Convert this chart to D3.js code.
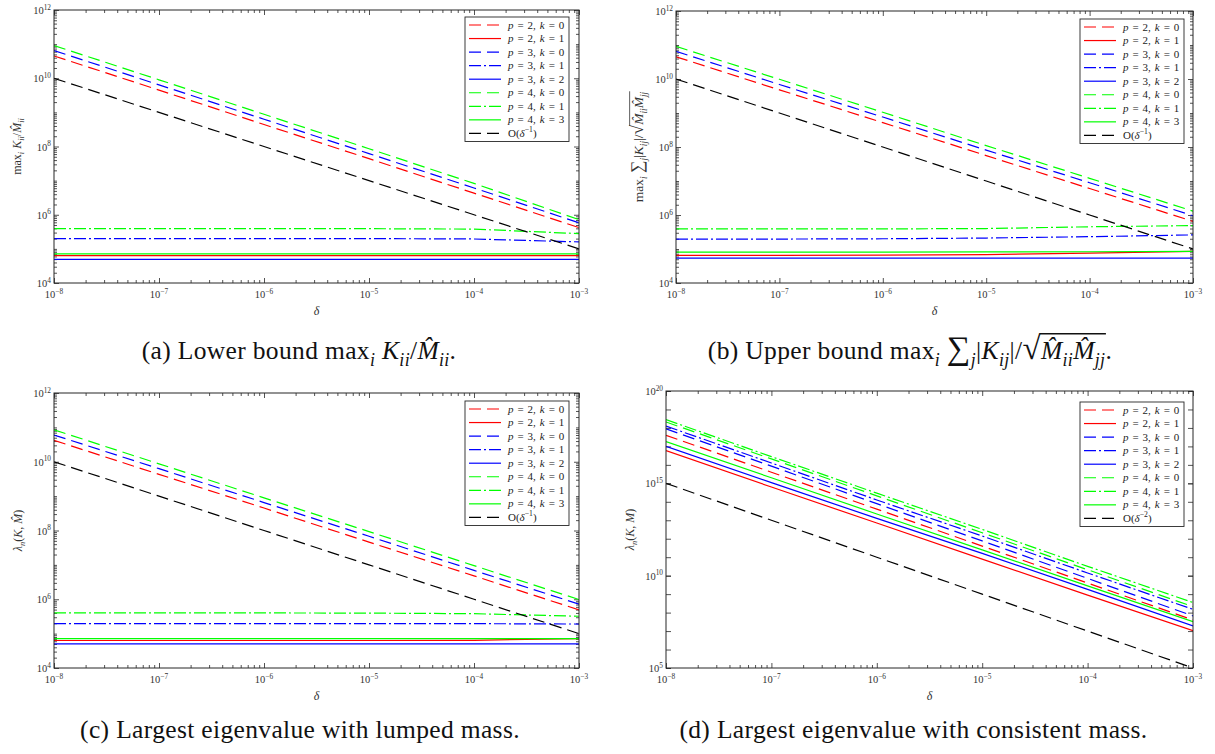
<!DOCTYPE html>
<html>
<head>
<meta charset="utf-8">
<script src="https://cdn.jsdelivr.net/npm/d3@7"></script>
<style>
  body { margin: 0; background: #fff; }
  svg text { font-family: "Liberation Serif", "Times New Roman", "DejaVu Serif", serif; }
</style>
</head>
<body>
<div id="fig"></div>
<script>
// delta values on the x axis (one reading per decade)
const deltas = [1e-8, 1e-7, 1e-6, 1e-5, 1e-4, 1e-3];

// legend entries, same order as the rows of every data array below
const seriesLabels = [
  [["p", "i"], [" = 2, ", "r"], ["k", "i"], [" = 0", "r"]],
  [["p", "i"], [" = 2, ", "r"], ["k", "i"], [" = 1", "r"]],
  [["p", "i"], [" = 3, ", "r"], ["k", "i"], [" = 0", "r"]],
  [["p", "i"], [" = 3, ", "r"], ["k", "i"], [" = 1", "r"]],
  [["p", "i"], [" = 3, ", "r"], ["k", "i"], [" = 2", "r"]],
  [["p", "i"], [" = 4, ", "r"], ["k", "i"], [" = 0", "r"]],
  [["p", "i"], [" = 4, ", "r"], ["k", "i"], [" = 1", "r"]],
  [["p", "i"], [" = 4, ", "r"], ["k", "i"], [" = 3", "r"]]
];
const refLabelMinus1 = [["O(", "r"], ["δ", "i"], ["−1", "^r"], [")", "r"]];
const refLabelMinus2 = [["O(", "r"], ["δ", "i"], ["−2", "^r"], [")", "r"]];

// (a) lower bound max_i K_ii / M_ii
const lowerBound = [
  [4.5e10, 4.5e9, 4.4e8, 4.4e7, 4.3e6, 4.2e5],
  [6.3e4, 6.3e4, 6.3e4, 6.3e4, 6.3e4, 6.3e4],
  [6.5e10, 6.4e9, 6.3e8, 6.2e7, 6.1e6, 5.8e5],
  [2.0e5, 2.0e5, 2.0e5, 2.0e5, 1.95e5, 1.6e5],
  [4.9e4, 4.9e4, 4.9e4, 4.9e4, 4.9e4, 4.9e4],
  [9.1e10, 9.0e9, 8.8e8, 8.6e7, 8.3e6, 7.2e5],
  [3.9e5, 3.9e5, 3.9e5, 3.9e5, 3.8e5, 2.8e5],
  [7.1e4, 7.1e4, 7.1e4, 7.1e4, 7.1e4, 7.1e4],
  [1e10, 1e9, 1e8, 1e7, 1e6, 1e5]
];

// (b) upper bound
const upperBound = [
  [4.5e10, 4.8e9, 5.2e8, 5.6e7, 6.0e6, 6.5e5],
  [6.5e4, 6.5e4, 6.6e4, 6.8e4, 7.6e4, 8.5e4],
  [6.5e10, 6.9e9, 7.6e8, 8.1e7, 8.9e6, 9.5e5],
  [1.96e5, 1.96e5, 2.0e5, 2.1e5, 2.3e5, 2.6e5],
  [5.4e4, 5.4e4, 5.4e4, 5.4e4, 5.4e4, 5.4e4],
  [9.1e10, 9.8e9, 1.05e9, 1.1e8, 1.2e7, 1.3e6],
  [3.9e5, 3.9e5, 3.9e5, 4.0e5, 4.5e5, 4.9e5],
  [8.1e4, 8.1e4, 8.1e4, 8.2e4, 8.3e4, 8.5e4],
  [1e10, 1e9, 1e8, 1e7, 1e6, 1e5]
];

// (c) largest eigenvalue, lumped mass
const lumpedEig = [
  [4.2e10, 4.3e9, 4.5e8, 4.6e7, 4.8e6, 4.9e5],
  [6.3e4, 6.3e4, 6.3e4, 6.3e4, 6.4e4, 7.2e4],
  [6.0e10, 6.3e9, 6.5e8, 6.8e7, 6.9e6, 7.2e5],
  [1.95e5, 1.95e5, 1.95e5, 1.95e5, 1.95e5, 1.9e5],
  [5.0e4, 5.0e4, 5.0e4, 5.0e4, 5.0e4, 5.0e4],
  [8.5e10, 8.7e9, 8.9e8, 9.3e7, 9.5e6, 9.8e5],
  [4.0e5, 4.0e5, 4.0e5, 3.95e5, 3.8e5, 3.2e5],
  [7.2e4, 7.2e4, 7.2e4, 7.2e4, 7.2e4, 7.2e4],
  [1e10, 1e9, 1e8, 1e7, 1e6, 1e5]
];

// (d) largest eigenvalue, consistent mass
const consistentEig = [
  [4.0e17, 4.0e15, 4.0e13, 4.0e11, 4.0e9, 4.0e7],
  [5.9e16, 6.3e14, 7.1e12, 7.9e10, 8.9e8, 1.05e7],
  [8.9e17, 8.5e15, 7.9e13, 7.6e11, 7.1e9, 6.6e7],
  [1.26e18, 1.26e16, 1.26e14, 1.4e12, 1.4e10, 1.5e8],
  [1.0e17, 1.1e15, 1.26e13, 1.6e11, 1.8e9, 1.9e7],
  [2.1e18, 2.1e16, 2.1e14, 2.1e12, 2.1e10, 2.1e8],
  [2.8e18, 2.8e16, 2.95e14, 3.2e12, 3.2e10, 3.5e8],
  [1.8e17, 2.0e15, 2.2e13, 2.5e11, 2.8e9, 3.2e7],
  [1e15, 1e13, 1e11, 1e9, 1e7, 1e5]
];

// line styles
const seriesColors = ["#ff0000", "#ff0000", "#0000ff", "#0000ff", "#0000ff", "#00ff00", "#00ff00", "#00ff00", "#000000"];
const dashed = "12,6", dashDot = "12,3,2,3";
const seriesDash = [dashed, null, dashed, dashDot, null, dashed, dashDot, null, dashed];
const axisColor = "#262626";

// pieces of the math text used in titles and captions
const upperMath = [["max", "r"], ["i", "_i"], [" ", "r"], ["\u2211", "rL"], ["j", "_i"], ["|", "r"], ["K", "i"], ["ij", "_i"], ["|/", "r"], ["\u221A", "rL"], ["M\u0302", "io"], ["ii", "_io"], ["M\u0302", "io"], ["jj", "_io"]];
const lowerMath = [["max", "r"], ["i", "_i"], [" K", "i"], ["ii", "_i"], ["/", "r"], ["M\u0302", "i"], ["ii", "_i"]];

const panels = [
  { id: "a", values: lowerBound, ref: refLabelMinus1, left: 54, right: 579, top: 10, bottom: 283,
    yDomain: [1e4, 1e12], yLabelExp: [4, 6, 8, 10, 12], minorY: true,
    legend: { right: 569, top: 17 },
    yTitle: lowerMath, yTitleX: 21, yTitleSize: 12,
    caption: [["(a) Lower bound ", "r"]].concat(lowerMath, [[".", "r"]]),
    capX: 299, capY: 359 },
  { id: "b", values: upperBound, ref: refLabelMinus1, left: 676, right: 1193, top: 11, bottom: 283,
    yDomain: [1e4, 1e12], yLabelExp: [4, 6, 8, 10, 12], minorY: true,
    legend: { right: 1184, top: 19 },
    yTitle: upperMath, yTitleX: 643, yTitleSize: 13.5,
    caption: [["(b) Upper bound ", "r"]].concat(upperMath, [[".", "r"]]),
    capX: 910, capY: 359 },
  { id: "c", values: lumpedEig, ref: refLabelMinus1, left: 54, right: 579, top: 393, bottom: 668,
    yDomain: [1e4, 1e12], yLabelExp: [4, 6, 8, 10, 12], minorY: true,
    legend: { right: 569, top: 401 },
    yTitle: [["λ", "i"], ["n", "_i"], ["(", "r"], ["K", "i"], [", ", "r"], ["M\u0302", "i"], [")", "r"]],
    yTitleX: 22, yTitleSize: 12,
    caption: [["(c) Largest eigenvalue with lumped mass.", "r"]],
    capX: 300, capY: 738 },
  { id: "d", values: consistentEig, ref: refLabelMinus2, left: 666, right: 1193, top: 391, bottom: 668,
    yDomain: [1e5, 1e20], yLabelExp: [5, 10, 15, 20], minorY: false,
    legend: { right: 1184, top: 402 },
    yTitle: [["λ", "i"], ["n", "_i"], ["(", "r"], ["K", "i"], [", ", "r"], ["M", "i"], [")", "r"]],
    yTitleX: 634, yTitleSize: 12,
    caption: [["(d) Largest eigenvalue with consistent mass.", "r"]],
    capX: 913.5, capY: 738 }
];

const svg = d3.select("#fig").append("svg").attr("width", 1215).attr("height", 754)
  .attr("font-family", "'Liberation Serif', 'Times New Roman', serif");

// write a little math string made of [text, style] pieces
// style: "r" roman, "i" italic, prefix "_" subscript, "^" superscript,
// "o" overlined (square root radicand), "L" larger operator
function addMath(text, parts, fs) {
  let cur = 0;
  const over = [];
  parts.forEach(([s, st]) => {
    const sub = st[0] === "_", sup = st[0] === "^";
    const off = sub ? 0.28 * fs : sup ? -0.42 * fs : 0;
    const t = text.append("tspan").text(s).attr("dy", off - cur);
    cur = off;
    if (sub || sup) t.attr("font-size", fs * 0.7);
    if (st.includes("L")) t.attr("font-size", fs * 1.3);
    if (st.includes("i")) t.attr("font-style", "italic");
    if (st.includes("o")) over.push({ node: t.node(), off: off });
  });
  return over;
}

// overline for the square root, drawn in the same coordinate space as the text
function drawOverline(parent, over, fs) {
  if (!over.length) return;
  try {
    const first = over[0].node, last = over[over.length - 1].node;
    const p0 = first.getStartPositionOfChar(0);
    const p1 = last.getEndPositionOfChar(last.getNumberOfChars() - 1);
    const base = p0.y - over[0].off;
    parent.append("line")
      .attr("x1", p0.x - 1).attr("x2", p1.x + 0.5)
      .attr("y1", base - 0.99 * fs).attr("y2", base - 0.99 * fs)
      .attr("stroke", "#111").attr("stroke-width", fs * 0.05);
  } catch (e) { console.log(e); }
}

function decadeTicks(lo, hi, mults) {
  const out = [];
  for (let n = lo; n < hi; n++) mults.forEach(m => out.push(m * Math.pow(10, n)));
  return out;
}

function drawPanel(p) {
  const x = d3.scaleLog().domain([deltas[0], deltas[deltas.length - 1]]).range([p.left, p.right]);
  const y = d3.scaleLog().domain(p.yDomain).range([p.bottom, p.top]);
  const g = svg.append("g");

  svg.append("clipPath").attr("id", "clip-" + p.id).append("rect")
    .attr("x", p.left).attr("y", p.top).attr("width", p.right - p.left).attr("height", p.bottom - p.top);

  // ticks on all four sides, pointing inwards
  const lgLo = Math.log10(p.yDomain[0]), lgHi = Math.log10(p.yDomain[1]);
  const xMinor = decadeTicks(-8, -3, [2, 3, 4, 5, 6, 7, 8, 9]);
  const yMajor = p.yLabelExp.map(e => Math.pow(10, e));
  const yMinor = p.minorY
    ? decadeTicks(lgLo, lgHi, [1, 2, 3, 4, 5, 6, 7, 8, 9]).filter(v => !yMajor.some(m => Math.abs(m - v) / m < 1e-6))
    : [];
  const yMid = p.minorY ? [] : d3.range(lgLo, lgHi + 1).map(e => Math.pow(10, e));

  function ticks(axisFn, scale, values, size, tr) {
    g.append("g").attr("transform", tr)
      .call(axisFn(scale).tickValues(values).tickSize(-size).tickSizeOuter(0).tickFormat(""))
      .call(s => s.select(".domain").remove())
      .selectAll("line").attr("stroke", axisColor).attr("stroke-width", 0.8);
  }
  ticks(d3.axisBottom, x, deltas, 5, `translate(0,${p.bottom})`);
  ticks(d3.axisBottom, x, xMinor, 3, `translate(0,${p.bottom})`);
  ticks(d3.axisTop, x, deltas, 5, `translate(0,${p.top})`);
  ticks(d3.axisTop, x, xMinor, 3, `translate(0,${p.top})`);
  ticks(d3.axisLeft, y, yMajor.concat(yMid), 5, `translate(${p.left},0)`);
  ticks(d3.axisRight, y, yMajor.concat(yMid), 5, `translate(${p.right},0)`);
  if (yMinor.length) {
    ticks(d3.axisLeft, y, yMinor, 3, `translate(${p.left},0)`);
    ticks(d3.axisRight, y, yMinor, 3, `translate(${p.right},0)`);
  }

  // curves
  const line = d3.line().x((d, i) => x(deltas[i])).y(d => y(d));
  g.append("g").attr("clip-path", `url(#clip-${p.id})`)
    .selectAll("path").data(p.values).join("path")
    .attr("d", line)
    .attr("fill", "none")
    .attr("stroke", (d, i) => seriesColors[i])
    .attr("stroke-width", 1.2)
    .attr("stroke-dasharray", (d, i) => seriesDash[i]);

  // frame
  g.append("rect")
    .attr("x", p.left).attr("y", p.top)
    .attr("width", p.right - p.left).attr("height", p.bottom - p.top)
    .attr("fill", "none").attr("stroke", axisColor).attr("stroke-width", 1);

  // tick labels
  deltas.forEach(d => {
    const t = g.append("text").attr("x", x(d)).attr("y", p.bottom + 15)
      .attr("text-anchor", "middle").attr("font-size", 10.5).attr("fill", "#333");
    addMath(t, [["10", "r"], ["−" + Math.round(-Math.log10(d)), "^r"]], 10.5);
  });
  p.yLabelExp.forEach(e => {
    const t = g.append("text").attr("x", p.left - 3).attr("y", y(Math.pow(10, e)) + 4)
      .attr("text-anchor", "end").attr("font-size", 10.5).attr("fill", "#333");
    addMath(t, [["10", "r"], [String(e), "^r"]], 10.5);
  });

  // axis titles
  g.append("text").attr("x", (p.left + p.right) / 2).attr("y", p.bottom + 32)
    .attr("text-anchor", "middle").attr("font-size", 12).attr("font-style", "italic")
    .attr("fill", "#333").text("δ");
  const yg = g.append("g").attr("transform", `translate(${p.yTitleX},${(p.top + p.bottom) / 2}) rotate(-90)`);
  const yt = yg.append("text").attr("text-anchor", "middle").attr("font-size", p.yTitleSize).attr("fill", "#333");
  drawOverline(yg, addMath(yt, p.yTitle, p.yTitleSize), p.yTitleSize);

  // legend
  const lw = 104, rowH = 13.55;
  const lx = p.legend.right - lw, ly = p.legend.top;
  const lg = g.append("g");
  lg.append("rect").attr("x", lx).attr("y", ly).attr("width", lw).attr("height", rowH * 9 + 2.5)
    .attr("fill", "#fff").attr("stroke", axisColor).attr("stroke-width", 0.9);
  const labels = seriesLabels.concat([p.ref]);
  labels.forEach((lab, i) => {
    const cy = ly + 8 + i * rowH;
    lg.append("line").attr("x1", lx + 4).attr("x2", lx + 36).attr("y1", cy).attr("y2", cy)
      .attr("stroke", seriesColors[i]).attr("stroke-width", 1.2).attr("stroke-dasharray", seriesDash[i]);
    const t = lg.append("text").attr("x", lx + 43).attr("y", cy + 3.6)
      .attr("font-size", 11).attr("fill", "#222").attr("word-spacing", 1.2);
    addMath(t, lab, 11);
  });

  // sub caption
  const cg = svg.append("g");
  const ct = cg.append("text").attr("x", p.capX).attr("y", p.capY)
    .attr("text-anchor", "middle").attr("font-size", 25.5).attr("letter-spacing", 0.35).attr("fill", "#111");
  drawOverline(cg, addMath(ct, p.caption, 25.5), 25.5);
}

panels.forEach(drawPanel);
</script>
</body>
</html>
